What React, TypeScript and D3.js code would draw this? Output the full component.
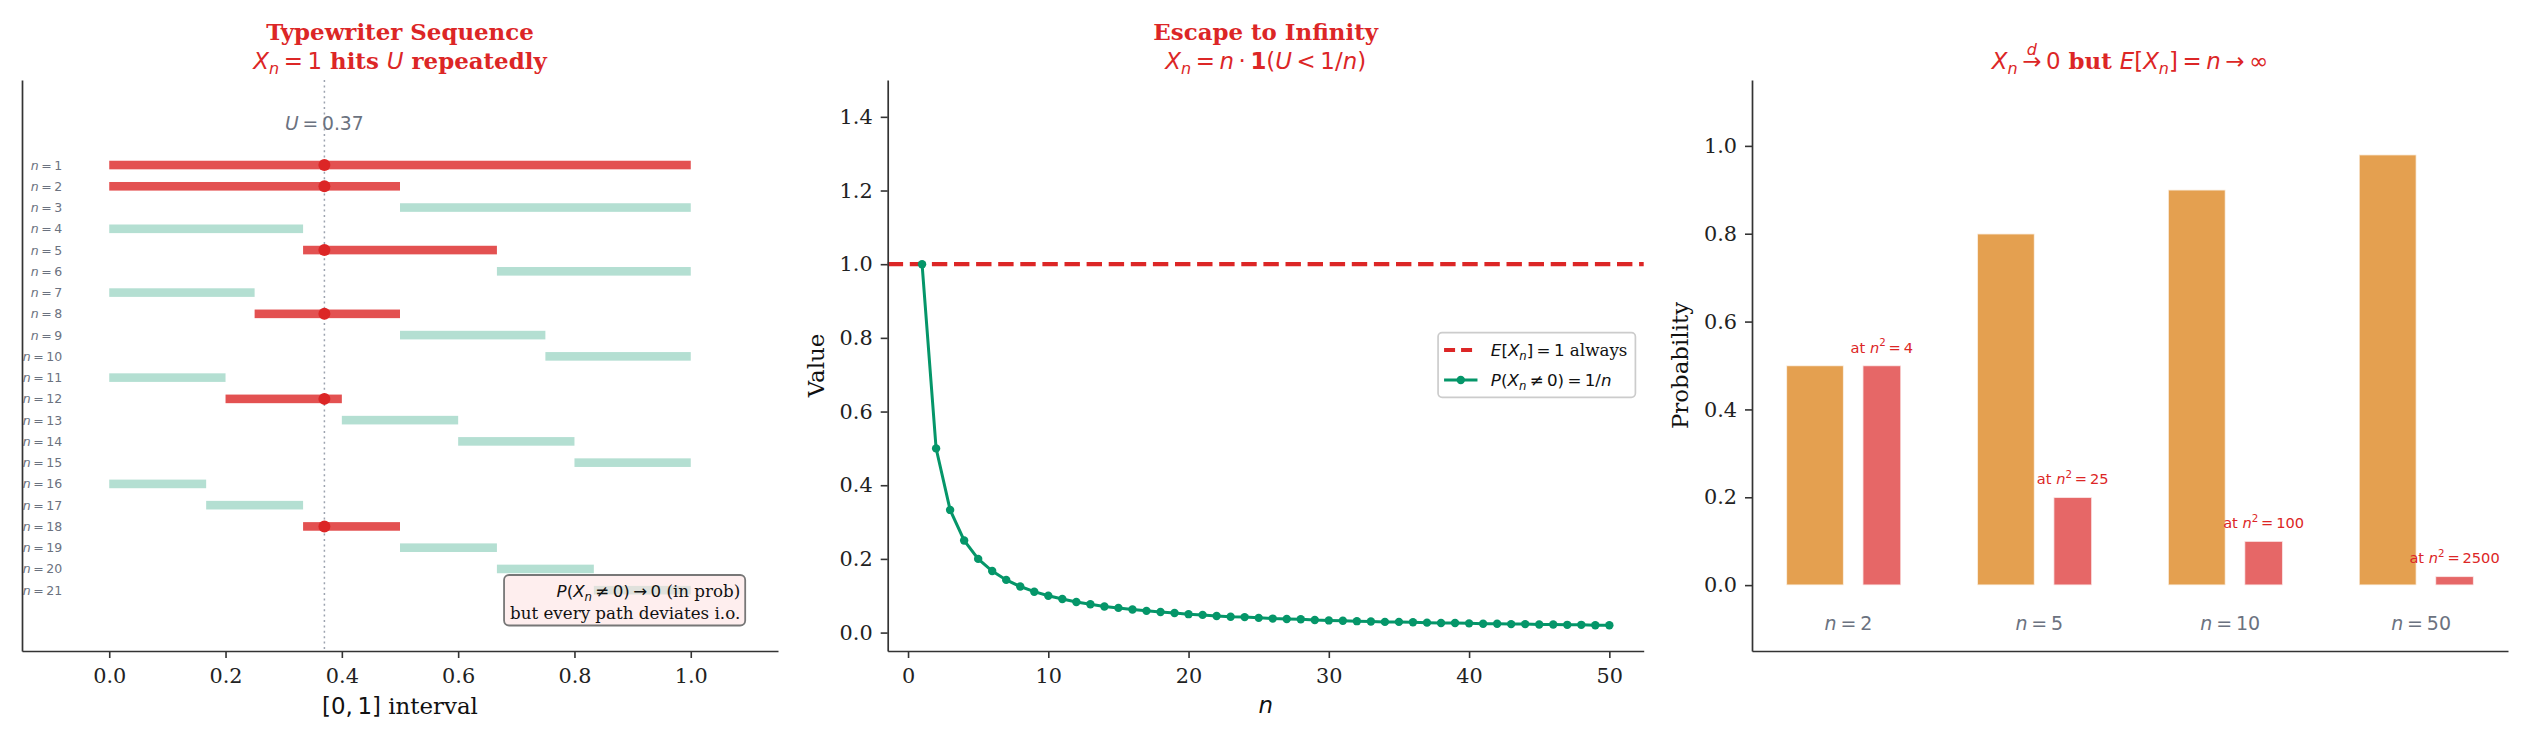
import React, { useEffect, useRef } from 'react';
import * as d3 from 'd3';

// ---------------- Data ----------------
// Panel 1: typewriter sequence
const rowIndex = [1, 2, 3, 4, 5, 6, 7, 8, 9, 10, 11, 12, 13, 14, 15, 16, 17, 18, 19, 20, 21];
const intervalStart = [0, 0, 0.5, 0, 1 / 3, 2 / 3, 0, 0.25, 0.5, 0.75, 0, 0.2, 0.4, 0.6, 0.8, 0, 1 / 6, 1 / 3, 0.5, 2 / 3, 5 / 6];
const intervalEnd = [1, 0.5, 1, 1 / 3, 2 / 3, 1, 0.25, 0.5, 0.75, 1, 0.2, 0.4, 0.6, 0.8, 1, 1 / 6, 1 / 3, 0.5, 2 / 3, 5 / 6, 1];
const uValue = 0.37;
const intervalTicks = [0, 0.2, 0.4, 0.6, 0.8, 1.0];

// Panel 2: escape to infinity
const nSteps = [1, 2, 3, 4, 5, 6, 7, 8, 9, 10, 11, 12, 13, 14, 15, 16, 17, 18, 19, 20, 21, 22, 23, 24, 25,
  26, 27, 28, 29, 30, 31, 32, 33, 34, 35, 36, 37, 38, 39, 40, 41, 42, 43, 44, 45, 46, 47, 48, 49, 50];
const probNonZero = [1, 0.5, 0.333, 0.25, 0.2, 0.167, 0.143, 0.125, 0.111, 0.1, 0.091, 0.083, 0.077, 0.071, 0.067,
  0.0625, 0.059, 0.056, 0.053, 0.05, 0.048, 0.045, 0.043, 0.042, 0.04, 0.038, 0.037, 0.036, 0.034, 0.033,
  0.032, 0.031, 0.03, 0.029, 0.029, 0.028, 0.027, 0.026, 0.026, 0.025, 0.024, 0.024, 0.023, 0.023, 0.022,
  0.022, 0.021, 0.021, 0.02, 0.02];
const expectedValue = 1;
const nTicks = [0, 10, 20, 30, 40, 50];
const valueTicks = [0, 0.2, 0.4, 0.6, 0.8, 1.0, 1.2, 1.4];

// Panel 3: convergence in distribution
const groupN = [2, 5, 10, 50];
const probZero = [0.5, 0.8, 0.9, 0.98];
const probJump = [0.5, 0.2, 0.1, 0.02];
const jumpValue = [4, 25, 100, 2500];
const probTicks = [0, 0.2, 0.4, 0.6, 0.8, 1.0];

// ---------------- Style ----------------
const W = 2531, H = 745;
const TOP = 80, BOTTOM = 651, PW = 756;
const LEFTS = [22, 887.7, 1752];
const RED = '#dc2626';
const GREEN = '#059669';
const ORANGE = '#d97706';
const GRAY = '#6b7280';
const AXIS = '#333333';
const SANS = "'DejaVu Sans', sans-serif";
const SERIF = "'DejaVu Serif', serif";
const THIN = '\u2009';

type Seg = { t: string; f?: 'it' | 'rm' | 'bf' | 'sbf' | 'srm'; s?: 'sub' | 'sup' | 'over'; dx?: number };

function rich(sel: any, segs: Seg[], fs: number) {
  sel.attr('font-size', fs).attr('font-family', SANS);
  let shift = 0;
  for (const g of segs) {
    const small = g.s ? 0.7 : 1;
    const target = g.s === 'sub' ? 0.22 * fs : g.s === 'sup' ? -0.42 * fs : g.s === 'over' ? -0.62 * fs : 0;
    const f = g.f || 'rm';
    const ts = sel.append('tspan').text(g.t)
      .attr('font-size', fs * small)
      .attr('font-family', f === 'sbf' || f === 'srm' ? SERIF : SANS)
      .attr('font-style', f === 'it' ? 'italic' : 'normal')
      .attr('font-weight', f === 'bf' || f === 'sbf' ? 'bold' : 'normal');
    if (target !== shift) { ts.attr('dy', target - shift); shift = target; }
    if (g.dx) ts.attr('dx', g.dx);
  }
  return sel;
}

function styleAxis(ax: any, fs = 20.8) {
  ax.attr('font-family', null).attr('font-size', null);
  ax.select('.domain').attr('stroke', AXIS).attr('stroke-width', 1.7);
  ax.selectAll('.tick line').attr('stroke', AXIS).attr('stroke-width', 1.6);
  ax.selectAll('.tick text').attr('font-family', SERIF).attr('font-size', fs).attr('fill', '#222');
}

function title(svg: any, cx: number, line1: string | null, line2: Seg[]) {
  const fs = 22.9;
  if (line1) {
    svg.append('text').attr('x', cx).attr('y', 40.4).attr('text-anchor', 'middle')
      .attr('fill', RED).attr('font-family', SERIF).attr('font-weight', 'bold').attr('font-size', fs).text(line1);
  }
  const t = svg.append('text').attr('x', cx).attr('y', 68.7).attr('text-anchor', 'middle')
    .attr('fill', RED).style('white-space', 'pre');
  rich(t, line2, fs);
}

export default function App() {
  const ref = useRef<SVGSVGElement | null>(null);

  useEffect(() => {
    document.body.style.margin = '0';
    const svg = d3.select(ref.current);
    svg.selectAll('*').remove();
    svg.append('rect').attr('width', W).attr('height', H).attr('fill', '#fff');

    // ================= Panel 1 =================
    {
      const L = LEFTS[0];
      const x = d3.scaleLinear().domain([-0.15, 1.15]).range([L, L + PW]);
      const y = d3.scaleLinear().domain([-3, 23.86]).range([TOP, BOTTOM]);
      const g = svg.append('g');

      g.append('line').attr('x1', x(uValue)).attr('x2', x(uValue)).attr('y1', TOP).attr('y2', BOTTOM)
        .attr('stroke', '#9ca3af').attr('stroke-width', 1.5).attr('stroke-dasharray', '2,3.4');

      const rows = rowIndex.map((n, i) => ({ n, a: intervalStart[i], b: intervalEnd[i], hit: intervalStart[i] <= uValue && uValue < intervalEnd[i] }));
      g.selectAll('rect.seg').data(rows).join('rect').attr('class', 'seg')
        .attr('x', d => x(d.a)).attr('width', d => x(d.b) - x(d.a))
        .attr('y', d => y(d.n) - 4.3).attr('height', 8.6)
        .attr('fill', d => d.hit ? RED : GREEN).attr('fill-opacity', d => d.hit ? 0.8 : 0.3);

      g.selectAll('circle.hit').data(rows.filter(d => d.hit)).join('circle').attr('class', 'hit')
        .attr('cx', x(uValue)).attr('cy', d => y(d.n)).attr('r', 6).attr('fill', RED);

      rows.forEach(d => {
        const t = g.append('text').attr('x', x(-0.081)).attr('y', y(d.n) + 4.5).attr('text-anchor', 'end')
          .attr('fill', GRAY).style('white-space', 'pre');
        rich(t, [{ t: 'n', f: 'it' }, { t: `${THIN}=${THIN}${d.n}` }], 12.5);
      });

      const ut = g.append('text').attr('x', x(uValue)).attr('y', 130).attr('text-anchor', 'middle')
        .attr('fill', GRAY).style('white-space', 'pre');
      rich(ut, [{ t: 'U', f: 'it' }, { t: `${THIN}=${THIN}${uValue}` }], 18.75);

      // annotation box
      const ag = g.append('g');
      const ax0 = L + 0.95 * PW;
      const l1 = ag.append('text').attr('x', ax0).attr('y', 597).attr('text-anchor', 'end').attr('fill', '#111').style('white-space', 'pre');
      rich(l1, [{ t: 'P', f: 'it' }, { t: '(' }, { t: 'X', f: 'it' }, { t: 'n', f: 'it', s: 'sub' },
        { t: `${THIN}≠${THIN}0)${THIN}→${THIN}0` }, { t: ' (in prob)', f: 'srm' }], 16.7);
      const l2 = ag.append('text').attr('x', ax0).attr('y', 618.5).attr('text-anchor', 'end').attr('fill', '#111').style('white-space', 'pre');
      rich(l2, [{ t: 'but every path deviates i.o.', f: 'srm' }], 16.7);
      const b1 = (l1.node() as SVGTextElement).getBBox();
      const b2 = (l2.node() as SVGTextElement).getBBox();
      const bx0 = Math.min(b1.x, b2.x) - 6, bx1 = Math.max(b1.x + b1.width, b2.x + b2.width) + 5;
      const by0 = b1.y - 6, by1 = b2.y + b2.height + 3;
      ag.insert('rect', ':first-child').attr('x', bx0).attr('y', by0).attr('width', bx1 - bx0).attr('height', by1 - by0)
        .attr('rx', 5).attr('fill', '#fee2e2').attr('fill-opacity', 0.6).attr('stroke', '#777').attr('stroke-width', 1.8);

      const axB = g.append('g').attr('transform', `translate(0,${BOTTOM})`)
        .call(d3.axisBottom(x).tickValues(intervalTicks).tickSize(7).tickSizeOuter(0).tickPadding(10).tickFormat(d3.format('.1f')) as any);
      styleAxis(axB);
      const axL = g.append('g').attr('transform', `translate(${L},0)`)
        .call(d3.axisLeft(y).tickValues([]).tickSizeOuter(0) as any);
      styleAxis(axL);

      const xl = g.append('text').attr('x', L + PW / 2).attr('y', 714).attr('text-anchor', 'middle').attr('fill', '#111').style('white-space', 'pre');
      rich(xl, [{ t: `[0,${THIN}1]` }, { t: ' interval', f: 'srm' }], 22.9);

      title(svg, L + PW / 2, 'Typewriter Sequence', [
        { t: 'X', f: 'it' }, { t: 'n', f: 'it', s: 'sub' }, { t: `${THIN}=${THIN}1` }, { t: ' hits ', f: 'sbf' },
        { t: 'U', f: 'it' }, { t: ' repeatedly', f: 'sbf' }]);
    }

    // ================= Panel 2 =================
    {
      const L = LEFTS[1];
      const x = d3.scaleLinear().domain([-1.45, 52.45]).range([L, L + PW]);
      const y = d3.scaleLinear().domain([-0.05, 1.5]).range([BOTTOM, TOP]);
      const g = svg.append('g');

      g.append('line').attr('x1', L).attr('x2', L + PW).attr('y1', y(expectedValue)).attr('y2', y(expectedValue))
        .attr('stroke', RED).attr('stroke-width', 4.2).attr('stroke-dasharray', '15.4,6.7');

      const pts = nSteps.map((n, i) => ({ n, v: probNonZero[i] }));
      const line = d3.line<any>().x(d => x(d.n)).y(d => y(d.v));
      g.append('path').attr('d', line(pts)).attr('fill', 'none').attr('stroke', GREEN).attr('stroke-width', 3);
      g.selectAll('circle.pt').data(pts).join('circle').attr('class', 'pt')
        .attr('cx', d => x(d.n)).attr('cy', d => y(d.v)).attr('r', 4.2).attr('fill', GREEN);

      const axB = g.append('g').attr('transform', `translate(0,${BOTTOM})`)
        .call(d3.axisBottom(x).tickValues(nTicks).tickSize(7).tickSizeOuter(0).tickPadding(10).tickFormat(d3.format('d')) as any);
      styleAxis(axB);
      const axL = g.append('g').attr('transform', `translate(${L},0)`)
        .call(d3.axisLeft(y).tickValues(valueTicks).tickSize(7).tickSizeOuter(0).tickPadding(8).tickFormat(d3.format('.1f')) as any);
      styleAxis(axL);

      const xl = g.append('text').attr('x', L + PW / 2).attr('y', 713).attr('text-anchor', 'middle').attr('fill', '#111');
      rich(xl, [{ t: 'n', f: 'it' }], 22.9);
      g.append('text').attr('transform', `translate(${L - 64},${(TOP + BOTTOM) / 2}) rotate(-90)`)
        .attr('text-anchor', 'middle').attr('font-family', SERIF).attr('font-size', 22.9).attr('fill', '#111').text('Value');

      // legend
      const lg = g.append('g');
      const fs = 16.7;
      const rowsY = [350, 380];
      const t1 = lg.append('text').attr('y', rowsY[0] + 0.36 * fs).attr('fill', '#111').style('white-space', 'pre');
      rich(t1, [{ t: 'E', f: 'it' }, { t: '[' }, { t: 'X', f: 'it' }, { t: 'n', f: 'it', s: 'sub' }, { t: `]${THIN}=${THIN}1` }, { t: ' always', f: 'srm' }], fs);
      const t2 = lg.append('text').attr('y', rowsY[1] + 0.36 * fs).attr('fill', '#111').style('white-space', 'pre');
      rich(t2, [{ t: 'P', f: 'it' }, { t: '(' }, { t: 'X', f: 'it' }, { t: 'n', f: 'it', s: 'sub' }, { t: `${THIN}≠${THIN}0)${THIN}=${THIN}1/` }, { t: 'n', f: 'it' }], fs);
      const tw = Math.max(...[t1, t2].map(t => (t.node() as SVGTextElement).getBBox().width));
      const boxR = L + PW - 8.3;
      const boxW = 6 + 33.4 + 13.4 + tw + 8;
      const boxL = boxR - boxW;
      const hx0 = boxL + 6, hx1 = hx0 + 33.4, tx = hx1 + 13.4;
      t1.attr('x', tx); t2.attr('x', tx);
      lg.insert('rect', ':first-child').attr('x', boxL).attr('y', 332.7).attr('width', boxW).attr('height', 64.6)
        .attr('rx', 4).attr('fill', '#fff').attr('fill-opacity', 0.8).attr('stroke', '#cccccc').attr('stroke-width', 1.7);
      lg.append('line').attr('x1', hx0).attr('x2', hx1).attr('y1', rowsY[0]).attr('y2', rowsY[0])
        .attr('stroke', RED).attr('stroke-width', 4.2).attr('stroke-dasharray', '11,6');
      lg.append('line').attr('x1', hx0).attr('x2', hx1).attr('y1', rowsY[1]).attr('y2', rowsY[1])
        .attr('stroke', GREEN).attr('stroke-width', 3);
      lg.append('circle').attr('cx', (hx0 + hx1) / 2).attr('cy', rowsY[1]).attr('r', 4.2).attr('fill', GREEN);

      title(svg, L + PW / 2, 'Escape to Infinity', [
        { t: 'X', f: 'it' }, { t: 'n', f: 'it', s: 'sub' }, { t: `${THIN}=${THIN}` }, { t: 'n', f: 'it' },
        { t: `${THIN}·${THIN}` }, { t: '1', f: 'bf' }, { t: '(' }, { t: 'U', f: 'it' }, { t: `${THIN}<${THIN}1/` },
        { t: 'n', f: 'it' }, { t: ')' }]);
    }

    // ================= Panel 3 =================
    {
      const L = LEFTS[2];
      const x = d3.scaleLinear().domain([-0.505, 3.455]).range([L, L + PW]);
      const y = d3.scaleLinear().domain([-0.15, 1.15]).range([BOTTOM, TOP]);
      const g = svg.append('g');
      const groups = groupN.map((n, i) => ({ i, n, p0: probZero[i], pj: probJump[i], j: jumpValue[i] }));

      g.selectAll('rect.o').data(groups).join('rect').attr('class', 'o')
        .attr('x', d => x(d.i - 0.325)).attr('width', d => x(d.i - 0.025) - x(d.i - 0.325))
        .attr('y', d => y(d.p0)).attr('height', d => y(0) - y(d.p0))
        .attr('fill', ORANGE).attr('fill-opacity', 0.7).attr('stroke', '#fff').attr('stroke-opacity', 0.7).attr('stroke-width', 1.5);
      g.selectAll('rect.r').data(groups).join('rect').attr('class', 'r')
        .attr('x', d => x(d.i + 0.075)).attr('width', d => x(d.i + 0.275) - x(d.i + 0.075))
        .attr('y', d => y(d.pj)).attr('height', d => y(0) - y(d.pj))
        .attr('fill', RED).attr('fill-opacity', 0.7).attr('stroke', '#fff').attr('stroke-opacity', 0.7).attr('stroke-width', 1.5);

      groups.forEach(d => {
        const t = g.append('text').attr('x', x(d.i + 0.175)).attr('y', y(d.pj) - 13).attr('text-anchor', 'middle')
          .attr('fill', RED).style('white-space', 'pre');
        rich(t, [{ t: 'at ' }, { t: 'n', f: 'it' }, { t: '2', s: 'sup' }, { t: `${THIN}=${THIN}${d.j}` }], 14.6);
        const t2 = g.append('text').attr('x', x(d.i)).attr('y', y(-0.0875) + 6.8).attr('text-anchor', 'middle')
          .attr('fill', GRAY).style('white-space', 'pre');
        rich(t2, [{ t: 'n', f: 'it' }, { t: `${THIN}=${THIN}${d.n}` }], 19);
      });

      const axB = g.append('g').attr('transform', `translate(0,${BOTTOM})`)
        .call(d3.axisBottom(x).tickValues([]).tickSizeOuter(0) as any);
      styleAxis(axB);
      const axL = g.append('g').attr('transform', `translate(${L},0)`)
        .call(d3.axisLeft(y).tickValues(probTicks).tickSize(7).tickSizeOuter(0).tickPadding(8).tickFormat(d3.format('.1f')) as any);
      styleAxis(axL);
      g.append('text').attr('transform', `translate(${L - 64},${(TOP + BOTTOM) / 2}) rotate(-90)`)
        .attr('text-anchor', 'middle').attr('font-family', SERIF).attr('font-size', 22.9).attr('fill', '#111').text('Probability');

      const fs = 22.9;
      const arrowW = 0.838 * fs, dW = 0.635 * 0.7 * fs;
      title(svg, L + PW / 2, null, [
        { t: 'X', f: 'it' }, { t: 'n', f: 'it', s: 'sub' }, { t: `${THIN}→` },
        { t: 'd', f: 'it', s: 'over', dx: -(arrowW / 2 + dW / 2) },
        { t: `${THIN}0`, dx: arrowW / 2 - dW / 2 }, { t: ' but ', f: 'sbf' },
        { t: 'E', f: 'it' }, { t: '[' }, { t: 'X', f: 'it' }, { t: 'n', f: 'it', s: 'sub' }, { t: `]${THIN}=${THIN}` },
        { t: 'n', f: 'it' }, { t: `${THIN}→${THIN}∞` }]);
    }
  }, []);

  return (
    <svg ref={ref} width={W} height={H} viewBox={`0 0 ${W} ${H}`}
      style={{ position: 'absolute', left: 0, top: 0, display: 'block' }} />
  );
}
